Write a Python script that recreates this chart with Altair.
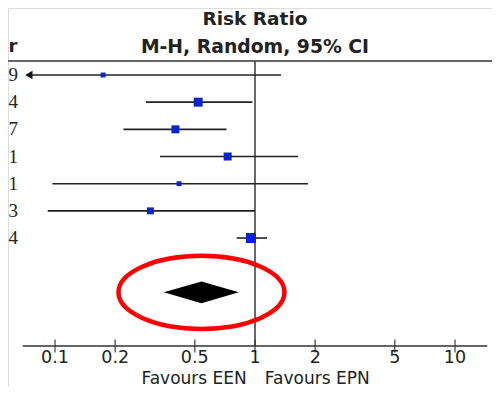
import altair as alt
import pandas as pd

# ---- data ----
year_tail = ["9", "4", "7", "1", "1", "3", "4"]          # clipped Year column (last characters)
rr = [0.174, 0.52, 0.40, 0.73, 0.417, 0.30, 0.955]        # risk ratio point estimates
ci_low = [0.02, 0.285, 0.22, 0.335, 0.097, 0.092, 0.81]  # lower 95% CI
ci_high = [1.35, 0.97, 0.72, 1.64, 1.84, 1.0, 1.15]      # upper 95% CI
weights = [6, 20, 16, 16, 6, 12, 25]                      # study weights (square area)
pooled = [0.35, 0.54, 0.83]                               # pooled RR: low, estimate, high
tick_values = [0.1, 0.2, 0.5, 1, 2, 5, 10]
tick_labels = ["0.1", "0.2", "0.5", "1", "2", "5", "10"]
axis_range = [0.069, 14.5]
title_lines = ["Risk Ratio", "M-H, Random, 95% CI"]
column_header = "r"
favours = ["Favours EEN", "Favours EPN"]

# ---- layout rows (vertical positions in "row" units) ----
row_title = [-1.06, -0.03]
row_header_line = 0.485
row_pooled = 9
row_axis = 10.974
row_ticklabels = 11.42
row_favours = 12.366
diamond_half = 0.4

W, H = 484, 379
PX_DEC = 200.0
PX_ROW = 27.17
x0 = -1.235
XDOM = [10 ** x0, 10 ** (x0 + W / PX_DEC)]
y0 = -1.466
YDOM = [y0, y0 + H / PX_ROW]
xs = alt.Scale(type="log", domain=XDOM, nice=False, zero=False)
ys = alt.Scale(domain=YDOM, reverse=True, nice=False, zero=False)
X = lambda f: alt.X(f, type="quantitative", scale=xs, axis=None)
Y = lambda f: alt.Y(f, type="quantitative", scale=ys, axis=None)

rows = list(range(1, len(rr) + 1))
studies = pd.DataFrame({
    "row": rows, "rr": rr, "lo": ci_low, "hi": ci_high, "w": weights, "tail": year_tail,
})
studies["lo_disp"] = studies["lo"].clip(lower=axis_range[0] + 0.005)
studies["arrow"] = studies["lo"] < axis_range[0]

LINE = "#333333"
FONT = "DejaVu Sans"

# top header line (full width)
top_line = alt.Chart(pd.DataFrame({"a": [XDOM[0]], "b": [XDOM[1]], "r": [row_header_line]})).mark_rule(
    color=LINE, strokeWidth=1.6).encode(x=X("a"), x2="b", y=Y("r"))

# line of no effect
null_line = alt.Chart(pd.DataFrame({"x": [1.0], "r1": [row_header_line], "r2": [row_axis]})).mark_rule(
    color="#444444", strokeWidth=1.6).encode(x=X("x"), y=Y("r1"), y2="r2")

# CI lines
ci = alt.Chart(studies).mark_rule(color="#222222", strokeWidth=1.6).encode(
    x=X("lo_disp"), x2="hi", y=Y("row"))

# arrow heads for truncated CIs
arrows = alt.Chart(studies).transform_filter("datum.arrow").mark_point(
    shape="triangle-left", filled=True, color="#111111", opacity=1, size=70).encode(
    x=X("lo_disp"), y=Y("row"))

# squares
squares = alt.Chart(studies).mark_square(color="#0a25d0", opacity=1).encode(
    x=X("rr"), y=Y("row"),
    size=alt.Size("w:Q", scale=alt.Scale(domain=[0, 25], range=[0, 100], zero=True), legend=None))

# pooled diamond
dia = pd.DataFrame({
    "x": pooled,
    "top": [row_pooled, row_pooled - diamond_half, row_pooled],
    "bot": [row_pooled, row_pooled + diamond_half, row_pooled],
})
diamond = alt.Chart(dia).mark_area(color="#000000", opacity=1, interpolate="linear").encode(
    x=X("x"), y=Y("top"), y2="bot")

# red annotation ellipse around pooled estimate
b = 0.44
k = 0.5523
ell = (f"M -1 0 C -1 {-k*b} {-k} {-b} 0 {-b} C {k} {-b} 1 {-k*b} 1 0 "
       f"C 1 {k*b} {k} {b} 0 {b} C {-k} {b} -1 {k*b} -1 0 Z")
ellipse = alt.Chart(pd.DataFrame({"x": [pooled[1]], "r": [row_pooled]})).mark_point(
    shape=ell, filled=False, color="#ff0000", strokeWidth=4.5, size=166 ** 2, opacity=1).encode(
    x=X("x"), y=Y("r"))

# x axis line
axis_line = alt.Chart(pd.DataFrame({"a": [axis_range[0]], "b": [axis_range[1]], "r": [row_axis]})).mark_rule(
    color=LINE, strokeWidth=1.6).encode(x=X("a"), x2="b", y=Y("r"))

ticks_df = pd.DataFrame({"v": tick_values, "lab": tick_labels, "r": row_axis, "rl": row_ticklabels})
ticks = alt.Chart(ticks_df).mark_tick(orient="vertical", color=LINE, thickness=1.6, size=13).encode(
    x=X("v"), y=Y("r"))
tick_text = alt.Chart(ticks_df).mark_text(font=FONT, fontSize=17.5, color="#222222", baseline="middle").encode(
    x=X("v"), y=Y("rl"), text="lab:N")

fav_df = pd.DataFrame({"x": [0.91, 1.12], "t": favours, "r": row_favours})
fav_left = alt.Chart(fav_df.iloc[[0]]).mark_text(font=FONT, fontSize=17, color="#222222",
                                                 align="right", baseline="alphabetic").encode(
    x=X("x"), y=Y("r"), text="t:N")
fav_right = alt.Chart(fav_df.iloc[[1]]).mark_text(font=FONT, fontSize=17, color="#222222",
                                                  align="left", baseline="alphabetic").encode(
    x=X("x"), y=Y("r"), text="t:N")

titles = alt.Chart(pd.DataFrame({"x": [1.0, 1.0], "r": row_title, "t": title_lines,
                                 "fs": [18.5, 18.8]})).mark_text(
    font=FONT, fontWeight="bold", color="#222222", baseline="middle").encode(
    x=X("x"), y=Y("r"), text="t:N", size=alt.Size("fs:Q", scale=None, legend=None))

# Year column at the far left (only its last characters are visible)
left_x = XDOM[0]
tails = alt.Chart(studies.assign(lx=left_x)).mark_text(
    font="Liberation Serif", fontSize=19, color="#222222", align="left", baseline="middle", dx=0.5).encode(
    x=X("lx"), y=Y("row"), text="tail:N")
hdr = alt.Chart(pd.DataFrame({"x": [left_x], "r": [row_title[1]], "t": [column_header]})).mark_text(
    font=FONT, fontSize=18, fontWeight="bold", color="#222222", align="left", baseline="middle", dx=0.5).encode(
    x=X("x"), y=Y("r"), text="t:N")

chart = alt.layer(
    top_line, null_line, ci, arrows, squares, diamond, ellipse, axis_line, ticks, tick_text,
    fav_left, fav_right, titles, tails, hdr,
).properties(
    width=W, height=H, autosize=alt.AutoSizeParams(type="none"), padding=0,
).configure_view(stroke=None).configure(background="white")

chart.save("out.html", embed_options={"renderer": "svg", "actions": False})
